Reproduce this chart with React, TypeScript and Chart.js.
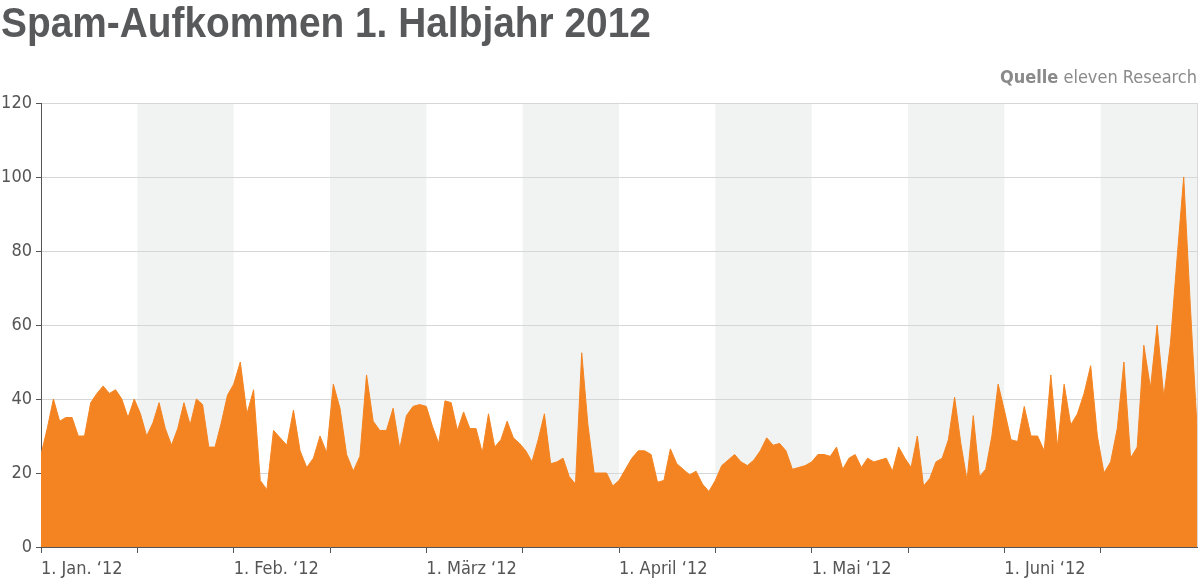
import { useEffect, useRef } from "react";
import { Chart, registerables } from "chart.js";

Chart.register(...registerables);

// Spam-Aufkommen pro Tag, Index (Höchstwert = 100)
const jan = [25, 32, 40, 34, 35, 35, 30, 30, 39, 41.5, 43.5, 41.5, 42.5, 40, 35, 40, 36, 30, 33.5, 39, 32, 27.5, 32, 39, 33, 40, 38.5, 27, 27, 33.5, 41];
const feb = [44, 50, 36, 42.5, 18, 15.5, 31.5, 29.5, 27.5, 37, 26, 21.5, 24, 30, 25.5, 44, 37.5, 25, 20.5, 24.5, 46.5, 34, 31.5, 31.5, 37.5, 26.5, 35.5, 38, 38.5];
const mar = [38, 32.5, 28, 39.5, 39, 31.5, 36.5, 32, 32, 25.5, 36, 27, 29, 34, 29.5, 28, 26, 23, 29, 36, 22.5, 23, 24, 19, 17, 52.5, 33, 20, 20, 20, 16.5];
const apr = [18, 21, 24, 26, 26, 25, 17.5, 18, 26.5, 22.5, 21, 19.5, 20.5, 17, 15, 18, 22, 23.5, 25, 23, 22, 23.5, 26, 29.5, 27.5, 28, 26, 21, 21.5, 22];
const mai = [23, 25, 25, 24.5, 27, 21, 24, 25, 21.5, 24, 23, 23.5, 24, 20.5, 27, 24, 21.5, 30, 16.5, 18.5, 23, 24, 29, 40.5, 28, 18, 35.5, 19, 21, 30, 44];
const jun = [37, 29, 28.5, 38, 30, 30, 26, 46.5, 27, 44, 33, 36, 41.5, 49, 30, 20, 23, 32, 50, 24, 27, 54.5, 43, 60, 40.5, 55, 78, 100, 65, 32.5];

const monthLabels = ["1. Jan. ‘12", "1. Feb. ‘12", "1. März ‘12", "1. April ‘12", "1. Mai ‘12", "1. Juni ‘12"];
const yTicks = [0, 20, 40, 60, 80, 100, 120];

const ORANGE = "#f48421";
const axisFont = { family: "'DejaVu Sans Condensed', 'DejaVu Sans', sans-serif", size: 18 };

// jeder Monat bekommt gleich viel Platz, die letzte Zahl liegt am rechten Rand
const months = [jan, feb, mar, apr, mai, jun];
const points = months.flatMap((vals, m) =>
    vals.map((v, d) => ({
        x: m + d / (m === months.length - 1 ? vals.length - 1 : vals.length),
        y: v,
    }))
);

const bandsPlugin = {
    id: "bands",
    beforeDraw(chart: any) {
        const { ctx, chartArea: a, scales } = chart;
        const x = scales.x;
        ctx.save();
        ctx.fillStyle = "#f1f2f2";
        for (let m = 0; m < months.length; m++) {
            const x0 = x.getPixelForValue(m + 0.5);
            const x1 = x.getPixelForValue(m + 1);
            ctx.fillRect(x0, a.top, x1 - x0, a.bottom - a.top);
        }
        ctx.strokeStyle = "#d9d9d9";
        ctx.lineWidth = 1;
        ctx.beginPath();
        ctx.moveTo(a.right + 0.5, a.top);
        ctx.lineTo(a.right + 0.5, a.bottom);
        ctx.stroke();
        ctx.restore();
    },
};

const SpamChart = () => {
    const canvasRef = useRef<HTMLCanvasElement>(null);
    const chartRef = useRef<Chart | null>(null);

    useEffect(() => {
        if (!canvasRef.current) return;
        chartRef.current = new Chart(canvasRef.current, {
            type: "line",
            data: {
                datasets: [
                    {
                        data: points,
                        fill: "origin",
                        backgroundColor: ORANGE,
                        borderColor: ORANGE,
                        borderWidth: 1,
                        pointRadius: 0,
                        tension: 0,
                    },
                ],
            },
            options: {
                responsive: true,
                maintainAspectRatio: false,
                animation: false,
                layout: { padding: { top: 103, right: 3, left: 0, bottom: 0 } },
                plugins: { legend: { display: false }, tooltip: { enabled: false } },
                scales: {
                    x: {
                        type: "linear",
                        min: 0,
                        max: 6,
                        afterBuildTicks: (s: any) => {
                            s.ticks = [];
                            for (let i = 0; i < months.length * 2; i++) s.ticks.push({ value: i / 2 });
                        },
                        afterFit: (s: any) => {
                            s.height = 40;
                        },
                        ticks: {
                            autoSkip: false,
                            maxRotation: 0,
                            align: "start",
                            padding: 6,
                            color: "#555",
                            font: axisFont,
                            callback: (v: any) => (Number.isInteger(v) ? monthLabels[v] : ""),
                        },
                        grid: { drawOnChartArea: false, tickLength: 6, tickColor: "#555" },
                        border: { color: "#555", width: 1 },
                    },
                    y: {
                        min: 0,
                        max: 120,
                        afterBuildTicks: (s: any) => {
                            s.ticks = yTicks.map((v) => ({ value: v }));
                        },
                        afterFit: (s: any) => {
                            s.width = 41;
                        },
                        ticks: { padding: 4, color: "#555", font: axisFont },
                        grid: { color: "#d6d6d6", tickLength: 5, tickColor: "#555" },
                        border: { color: "#555", width: 1 },
                    },
                },
            },
            plugins: [bandsPlugin],
        } as any);
        return () => {
            chartRef.current?.destroy();
            chartRef.current = null;
        };
    }, []);

    return <canvas ref={canvasRef} />;
};

export default function App() {
    return (
        <div style={{ position: "fixed", left: 0, top: 0, width: 1200, height: 587, background: "#fff", overflow: "hidden" }}>
            <div style={{ position: "absolute", inset: 0 }}>
                <SpamChart />
            </div>
            <div
                style={{
                    position: "absolute",
                    left: 1,
                    top: 2,
                    fontFamily: "'Liberation Sans', Arial, sans-serif",
                    fontWeight: "bold",
                    fontSize: 42,
                    lineHeight: "42px",
                    transform: "scaleX(0.925)",
                    transformOrigin: "left top",
                    color: "#58595b",
                    whiteSpace: "nowrap",
                }}
            >
                Spam-Aufkommen 1. Halbjahr 2012
            </div>
            <div
                style={{
                    position: "absolute",
                    right: 3,
                    top: 66,
                    fontFamily: "'DejaVu Sans Condensed', 'DejaVu Sans', sans-serif",
                    fontSize: 18,
                    lineHeight: "22px",
                    color: "#8a8a8a",
                    whiteSpace: "nowrap",
                }}
            >
                <b>Quelle</b> eleven Research
            </div>
        </div>
    );
}
